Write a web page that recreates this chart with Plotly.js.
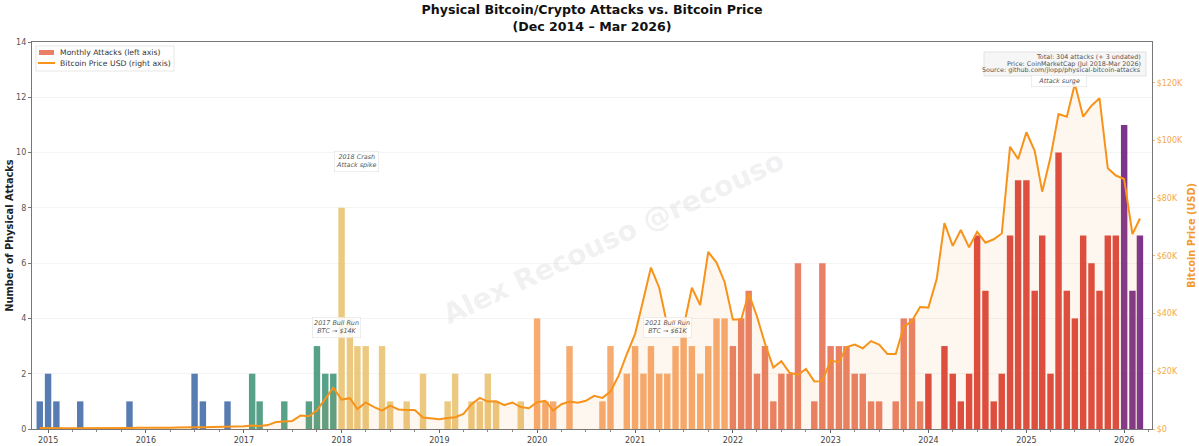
<!DOCTYPE html>
<html><head><meta charset="utf-8">
<script src="https://cdn.plot.ly/plotly-3.0.1.min.js"></script>
<style>html,body{margin:0;padding:0;background:#fff}</style></head>
<body><div id="chart" style="width:1199px;height:446px"></div>
<script>
const attackMonths = ['2014-12','2015-01','2015-02','2015-05','2015-11','2016-07','2016-08','2016-11',
'2017-02','2017-03','2017-06','2017-09','2017-10','2017-11','2017-12',
'2018-01','2018-02','2018-03','2018-04','2018-06','2018-07','2018-09','2018-11',
'2019-02','2019-03','2019-05','2019-06','2019-07','2019-08','2019-11',
'2020-01','2020-02','2020-03','2020-05','2020-09','2020-10','2020-12',
'2021-01','2021-02','2021-03','2021-04','2021-05','2021-06','2021-07','2021-08','2021-09','2021-10','2021-11','2021-12',
'2022-01','2022-02','2022-03','2022-04','2022-05','2022-06','2022-07','2022-08','2022-09','2022-11','2022-12',
'2023-01','2023-02','2023-03','2023-04','2023-05','2023-06','2023-07','2023-09','2023-10','2023-11','2023-12',
'2024-01','2024-03','2024-04','2024-05','2024-06','2024-07','2024-08','2024-09','2024-10','2024-11','2024-12',
'2025-01','2025-02','2025-03','2025-04','2025-05','2025-06','2025-07','2025-08','2025-09','2025-10','2025-11','2025-12',
'2026-01','2026-02','2026-03'];
const attackCounts = [1,2,1,1,1,2,1,1,
2,1,1,1,3,2,2,
8,4,3,3,3,1,1,2,
1,2,1,1,2,1,1,
4,1,1,3,1,3,2,
3,2,3,2,2,3,4,3,2,3,4,4,
3,4,5,2,3,1,2,2,6,1,6,
3,3,3,2,2,1,1,1,4,4,1,
2,3,2,1,2,7,5,1,2,7,9,
9,5,7,2,10,5,4,7,6,5,7,7,
11,5,7];
const priceK = [0.32,
0.22,0.25,0.25,0.24,0.23,0.26,0.28,0.23,0.24,0.31,0.38,0.43,
0.37,0.44,0.42,0.45,0.53,0.67,0.62,0.58,0.61,0.70,0.74,0.96,
0.97,1.19,1.08,1.35,2.4,2.6,2.8,4.7,4.4,6.5,10.5,14.3,
10.2,10.7,6.9,9.2,7.7,6.4,8.1,6.8,6.6,6.6,4.0,3.7,
3.4,3.8,4.1,5.2,8.6,10.8,9.5,9.6,8.3,9.2,7.6,7.2,
9.3,9.8,6.4,8.6,9.5,9.1,9.8,11.5,10.8,13,18.6,26,
33,45,56,49,36,35,35.4,49,43,61.4,57.7,51,
38,38,47,39,29.6,21.3,23.5,19.5,18.8,20.8,16.5,16.6,
23.8,23.1,28.4,29.3,28,30.5,29.3,26,26,35.4,37.5,42.3,
42.1,52,71.4,63.5,69,63,68.4,64.6,65.8,67.8,97.9,93.6,
102.9,96.5,82.3,94.2,109.2,108.3,119.7,108.3,112.1,114.7,90.4,87.9,
86.7,67.6,73];
const leftTicks = [0,2,4,6,8,10,12,14];
const rightTickVals = [0,20,40,60,80,100,120];
const rightTickText = ['$0','$20K','$40K','$60K','$80K','$100K','$120K'];
const yearTicks = ['2015','2016','2017','2018','2019','2020','2021','2022','2023','2024','2025','2026'];
const statsLines = ['Total: 304 attacks (+ 3 undated)','Price: CoinMarketCap (Jul 2018-Mar 2026)','Source: github.com/jlopp/physical-bitcoin-attacks'];
const periodColors = {blue:'#3A65A4',green:'#3A9073',sand:'#E7C06A',peach:'#F49C57',coral:'#E5694A',red:'#D62A20',purple:'#651078'};

function colorFor(m){
  const y=+m.slice(0,4);
  if(y<=2016) return periodColors.blue;
  if(y===2017) return periodColors.green;
  if(y<=2019) return periodColors.sand;
  if(y<=2021) return periodColors.peach;
  if(y<=2023) return periodColors.coral;
  if(y<=2025) return periodColors.red;
  return periodColors.purple;
}
const priceDates = priceK.map((_,i)=>{
  const t=2014*12+11+i; return Math.floor(t/12)+'-'+String(t%12+1).padStart(2,'0')+'-01';
});
const font='"DejaVu Sans", sans-serif';
const orange='#F7931A';
const barX=attackMonths.map(m=>m+'-01');
const monthWidth=24*86400000;
const px=v=>(v-32)/1120, py=v=>(429-v)/387;

const traces=[
 {type:'bar',x:barX,y:attackCounts,width:monthWidth,name:'Monthly Attacks (left axis)',hoverinfo:'x+y',
  marker:{color:attackMonths.map(colorFor),opacity:0.85,line:{width:0}},xaxis:'x',yaxis:'y'},
 {type:'scatter',mode:'lines',x:priceDates,y:priceK,name:'Bitcoin Price USD (right axis)',
  line:{color:orange,width:2},fill:'tozeroy',fillcolor:'rgba(247,147,26,0.07)',xaxis:'x',yaxis:'y2'}
];
const noteFont={family:font,size:6.4,color:'#555',style:'italic'};
const note=(text,x,y)=>({text,x,y,xref:'x',yref:'y',showarrow:false,font:noteFont,align:'center',
  bgcolor:'rgba(255,255,255,0.85)',bordercolor:'#e2e2e2',borderwidth:0.6,borderpad:1.5});
const legendText=(text,y)=>({text,xref:'paper',yref:'paper',x:px(58),y:py(y),xanchor:'left',yanchor:'middle',showarrow:false,
  font:{family:font,size:7.7,color:'#333'}});
const statText=(text,y)=>({text,xref:'paper',yref:'paper',x:px(1143),y:py(y),xanchor:'right',yanchor:'middle',showarrow:false,
  font:{family:font,size:6.4,color:'#555'}});
const layout={
 width:1199,height:446,paper_bgcolor:'#fff',plot_bgcolor:'#fff',font:{family:font,size:8,color:'#444'},showlegend:false,
 margin:{l:32,r:47,t:42,b:17,pad:0},barmode:'overlay',
 title:{text:'<b>Physical Bitcoin/Crypto Attacks vs. Bitcoin Price<br>(Dec 2014 – Mar 2026)</b>',
  font:{family:font,size:12.6,color:'#111'},x:0.5,xanchor:'center',y:0.968,yanchor:'top',xref:'paper'},
 xaxis:{type:'date',range:['2014-11-02','2026-04-15'],tickvals:yearTicks.map(y=>y+'-01-01'),ticktext:yearTicks,
  ticks:'outside',ticklen:3,tickcolor:'#666',tickfont:{size:8,color:'#444'},showgrid:false,zeroline:false,
  showline:true,linecolor:'#777',linewidth:1.2,mirror:true,
  minor:{dtick:'M3',ticks:'outside',ticklen:1.5,tickcolor:'#888',showgrid:false}},
 yaxis:{range:[0,14],tickvals:leftTicks,ticks:'outside',ticklen:3,tickcolor:'#777',tickfont:{size:8,color:'#555'},
  gridcolor:'#f4f4f4',gridwidth:0.6,zeroline:false,showline:true,linecolor:'#777',linewidth:1.2,
  title:{text:'<b>Number of Physical Attacks</b>',font:{family:font,size:9.8,color:'#222'},standoff:0}},
 yaxis2:{overlaying:'y',side:'right',range:[0,134.2],tickvals:rightTickVals,ticktext:rightTickText,ticks:'outside',ticklen:2,
  tickcolor:'#F9B566',tickfont:{size:8,color:'#F5A84A'},showgrid:false,zeroline:false,showline:true,linecolor:'#777',linewidth:1.2,
  title:{text:'<b>Bitcoin Price (USD)</b>',font:{family:font,size:9.8,color:'#F29A2E'},standoff:6}},
 shapes:[
  {type:'rect',xref:'paper',yref:'paper',x0:px(36),x1:px(174),y0:py(71),y1:py(46),fillcolor:'rgba(255,255,255,0.9)',line:{color:'#ddd',width:0.7},layer:'above'},
  {type:'rect',xref:'paper',yref:'paper',x0:px(39),x1:px(54),y0:py(55),y1:py(50),fillcolor:'#E5694A',opacity:0.85,line:{width:0},layer:'above'},
  {type:'line',xref:'paper',yref:'paper',x0:px(38),x1:px(55),y0:py(63),y1:py(63),line:{color:orange,width:2},layer:'above'},
  {type:'rect',xref:'paper',yref:'paper',x0:px(984),x1:px(1146),y0:py(76),y1:py(52),fillcolor:'#f6f6f6',line:{color:'#d8d8d8',width:0.7},layer:'above'}
 ],
 annotations:[
  {text:'Alex Recouso @recouso',xref:'paper',yref:'paper',x:0.519,y:0.496,showarrow:false,textangle:-25,
   font:{family:font,size:28,color:'rgba(150,150,150,0.14)',weight:'bold'}},
  legendText('Monthly Attacks (left axis)',52.5),
  legendText('Bitcoin Price USD (right axis)',63.5),
  note('2018 Crash<br>Attack spike','2018-02-25',9.66),
  note('2017 Bull Run<br>BTC → $14K','2017-12-12',3.67),
  note('2021 Bull Run<br>BTC → $61K','2021-05-01',3.69),
  Object.assign(note('Attack surge','2025-05-01',12.38),{width:52,height:8,yanchor:'bottom'}),
  statText(statsLines[0],56.7),
  statText(statsLines[1],63.5),
  statText(statsLines[2],70.3)
 ]
};
Plotly.newPlot('chart',traces,layout,{displayModeBar:false,responsive:false});
</script></body></html>
